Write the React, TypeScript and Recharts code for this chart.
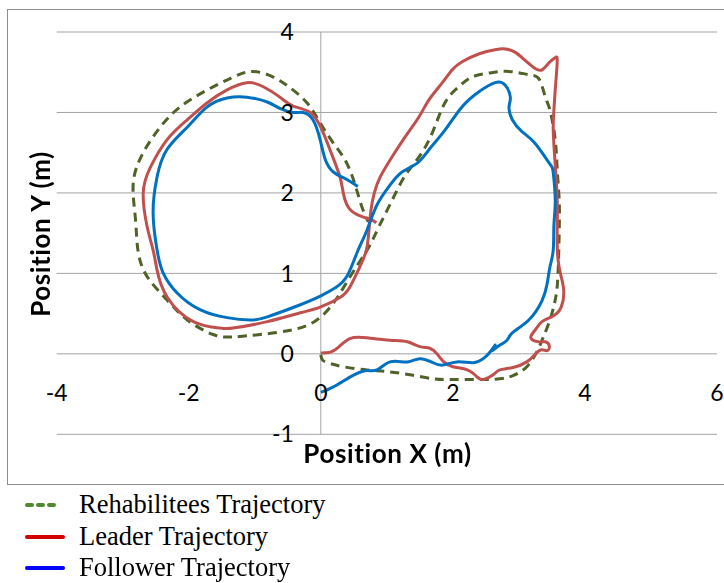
import React from 'react';
import { LineChart, Line, XAxis, YAxis, CartesianGrid, ReferenceLine, ReferenceDot, Legend } from 'recharts';

// Trajectories in metres, in the order they were recorded.
const rehabiliteeX = [0.00, 0.02, 0.10, 0.34, 0.70, 1.00, 1.35, 1.70, 1.96, 2.37, 2.71, 2.91, 3.12, 3.28, 3.37, 3.47, 3.55, 3.59, 3.61, 3.61, 3.58, 3.55, 3.47, 3.40, 3.31, 3.15, 2.85, 2.55, 2.29, 2.09, 1.88, 1.69, 1.49, 1.28, 1.08, 0.88, 0.73, 0.56, 0.37, 0.19, -0.06, -0.42, -0.92, -1.33, -1.63, -2.02, -2.33, -2.63, -2.77, -2.81, -2.84, -2.69, -2.43, -2.13, -1.72, -1.33, -1.03, -0.72, -0.47, -0.21, -0.01, 0.19, 0.38, 0.52, 0.62, 0.72];
const rehabiliteeY = [-0.01, -0.07, -0.11, -0.16, -0.20, -0.22, -0.26, -0.31, -0.32, -0.32, -0.31, -0.27, -0.16, 0.04, 0.21, 0.42, 0.67, 0.96, 1.50, 1.91, 2.29, 2.66, 3.03, 3.19, 3.41, 3.47, 3.51, 3.49, 3.44, 3.32, 3.12, 2.75, 2.45, 2.22, 1.91, 1.58, 1.33, 1.11, 0.86, 0.63, 0.42, 0.30, 0.24, 0.21, 0.24, 0.42, 0.67, 0.96, 1.29, 1.70, 2.13, 2.50, 2.82, 3.07, 3.28, 3.44, 3.51, 3.44, 3.31, 3.12, 2.87, 2.62, 2.39, 2.10, 1.83, 1.64];

const leaderX = [0.00, 0.14, 0.25, 0.44, 0.70, 1.05, 1.31, 1.50, 1.65, 1.76, 1.85, 2.00, 2.22, 2.37, 2.46, 2.61, 2.71, 2.91, 3.12, 3.24, 3.34, 3.43, 3.46, 3.40, 3.29, 3.18, 3.24, 3.35, 3.52, 3.64, 3.68, 3.64, 3.59, 3.58, 3.58, 3.55, 3.52, 3.53, 3.55, 3.58, 3.55, 3.46, 3.35, 3.24, 3.09, 2.94, 2.79, 2.64, 2.40, 2.14, 1.99, 1.84, 1.64, 1.49, 1.28, 1.08, 0.90, 0.81, 0.76, 0.73, 0.69, 0.59, 0.44, 0.29, -0.01, -0.31, -0.81, -1.33, -1.52, -1.93, -2.33, -2.48, -2.54, -2.63, -2.69, -2.58, -2.33, -2.02, -1.72, -1.42, -1.12, -0.87, -0.62, -0.42, -0.16, 0.02, 0.17, 0.29, 0.34, 0.41, 0.55, 0.75, 0.84];
const leaderY = [0.01, 0.02, 0.07, 0.19, 0.20, 0.17, 0.15, 0.09, 0.07, 0.00, -0.09, -0.16, -0.20, -0.29, -0.32, -0.26, -0.20, -0.17, -0.10, -0.01, 0.05, 0.04, 0.10, 0.15, 0.15, 0.20, 0.29, 0.40, 0.47, 0.58, 0.77, 0.96, 1.19, 1.54, 1.91, 2.35, 2.78, 3.03, 3.28, 3.63, 3.68, 3.62, 3.53, 3.55, 3.65, 3.75, 3.79, 3.78, 3.73, 3.63, 3.53, 3.37, 3.16, 2.95, 2.70, 2.45, 2.20, 2.00, 1.79, 1.54, 1.29, 1.08, 0.83, 0.70, 0.58, 0.51, 0.40, 0.32, 0.32, 0.40, 0.71, 1.04, 1.29, 1.58, 2.00, 2.32, 2.66, 2.91, 3.12, 3.28, 3.37, 3.32, 3.19, 3.08, 3.00, 2.78, 2.47, 2.20, 2.00, 1.83, 1.73, 1.67, 1.63];

const followerX = [0.00, 0.19, 0.44, 0.67, 0.85, 1.05, 1.31, 1.50, 1.70, 1.85, 2.06, 2.31, 2.46, 2.56, 2.64, 2.59, 2.68, 2.82, 2.90, 3.15, 3.35, 3.43, 3.47, 3.52, 3.53, 3.55, 3.52, 3.46, 3.24, 3.05, 2.90, 2.85, 2.87, 2.79, 2.64, 2.40, 2.14, 1.88, 1.64, 1.46, 1.23, 1.05, 0.85, 0.70, 0.55, 0.40, 0.22, 0.00, -0.31, -0.81, -1.07, -1.42, -1.83, -2.18, -2.39, -2.48, -2.54, -2.48, -2.33, -2.02, -1.72, -1.42, -1.12, -0.81, -0.62, -0.42, -0.27, -0.12, -0.01, 0.07, 0.19, 0.34, 0.47, 0.56];
const followerY = [-0.48, -0.41, -0.29, -0.21, -0.20, -0.10, -0.10, -0.06, -0.11, -0.14, -0.10, -0.11, -0.06, 0.02, 0.11, 0.04, 0.09, 0.17, 0.26, 0.42, 0.66, 0.88, 1.08, 1.29, 1.60, 1.91, 2.25, 2.37, 2.62, 2.76, 2.91, 3.07, 3.19, 3.34, 3.37, 3.26, 3.07, 2.78, 2.54, 2.37, 2.26, 2.10, 1.85, 1.54, 1.26, 0.97, 0.82, 0.72, 0.61, 0.46, 0.42, 0.45, 0.55, 0.76, 1.01, 1.29, 1.75, 2.20, 2.54, 2.82, 3.07, 3.18, 3.19, 3.13, 3.05, 3.00, 3.00, 2.91, 2.66, 2.41, 2.26, 2.19, 2.13, 2.08];

const xTickValues = [-4, -2, 0, 2, 4, 6];
const yTickValues = [-1, 0, 1, 2, 3, 4];

const toPoints = (xs: number[], ys: number[]) => xs.map((x, i) => ({ x, y: ys[i] }));

const rehabiliteeData = toPoints(rehabiliteeX, rehabiliteeY);
const leaderData = toPoints(leaderX, leaderY);
const followerData = toPoints(followerX, followerY);

const legendItems = [
  { name: 'Rehabilitees Trajectory', color: '#4f8a2f', dashed: true },
  { name: 'Leader Trajectory', color: '#d40000', dashed: false },
  { name: 'Follower Trajectory', color: '#0000ff', dashed: false },
];

const tickFont = 'Lato, "Open Sans", sans-serif';
const gridColor = '#a3a3a3';

const LegendBox = () => (
  <div style={{ fontFamily: '"Liberation Serif", "Times New Roman", serif', fontSize: 26.5, color: '#000' }}>
    {legendItems.map((it) => (
      <div key={it.name} style={{ display: 'flex', alignItems: 'center', height: 31.7 }}>
        <svg width={60} height={20} style={{ marginLeft: 22 }}>
          <line
            x1={5}
            x2={it.dashed ? 34 : 41}
            y1={10}
            y2={10}
            stroke={it.color}
            strokeWidth={4}
            strokeLinecap="round"
            strokeDasharray={it.dashed ? '5 6' : undefined}
          />
        </svg>
        <span style={{ marginLeft: -3, lineHeight: '31.7px' }}>{it.name}</span>
      </div>
    ))}
  </div>
);

export default function App() {
  return (
    <div style={{ position: 'fixed', left: 0, top: 0, width: 724, height: 583, background: '#fff' }}>
      <div
        style={{
          position: 'absolute',
          left: 7,
          top: 9,
          width: 724,
          height: 476,
          border: '1px solid #8c8c8c',
          boxSizing: 'border-box',
        }}
      />
      <LineChart
        width={724}
        height={583}
        margin={{ top: 32, right: 7, bottom: 148.7, left: 56.7 }}
        style={{ position: 'absolute', left: 0, top: 0 }}
      >
        <XAxis type="number" dataKey="x" domain={[-4, 6]} ticks={xTickValues} hide />
        <YAxis type="number" dataKey="y" domain={[-1, 4]} ticks={yTickValues} hide />
        <CartesianGrid vertical={false} horizontalValues={yTickValues} stroke={gridColor} strokeWidth={1} />
        <ReferenceLine x={0} stroke={gridColor} strokeWidth={1} />
        {xTickValues.map((t) => (
          <ReferenceDot
            key={`xt${t}`}
            x={t}
            y={0}
            r={0}
            fill="none"
            stroke="none"
            label={{ value: String(t), position: 'bottom', offset: 31, fill: '#000', fontSize: 23, fontFamily: tickFont }}
          />
        ))}
        {yTickValues.map((t) => (
          <ReferenceDot
            key={`yt${t}`}
            x={0}
            y={t}
            r={0}
            fill="none"
            stroke="none"
            label={{ value: String(t), position: 'left', offset: 27, fill: '#000', fontSize: 23, fontFamily: tickFont }}
          />
        ))}
        <Line
          data={rehabiliteeData}
          dataKey="y"
          name="Rehabilitees Trajectory"
          type="natural"
          stroke="#4f6228"
          strokeWidth={3}
          strokeDasharray="9 6"
          dot={false}
          activeDot={false}
          isAnimationActive={false}
        />
        <Line
          data={leaderData}
          dataKey="y"
          name="Leader Trajectory"
          type="natural"
          stroke="#c0504d"
          strokeWidth={3}
          dot={false}
          activeDot={false}
          isAnimationActive={false}
        />
        <Line
          data={followerData}
          dataKey="y"
          name="Follower Trajectory"
          type="natural"
          stroke="#0070c0"
          strokeWidth={3}
          dot={false}
          activeDot={false}
          isAnimationActive={false}
        />
        <Legend
          layout="horizontal"
          align="center"
          verticalAlign="middle"
          content={() => <LegendBox />}
          wrapperStyle={{ position: 'absolute', left: 0, top: 489, width: 400, height: 95 }}
        />
      </LineChart>
      <svg width={724} height={583} style={{ position: 'absolute', left: 0, top: 0, pointerEvents: 'none' }}>
        <text
          x={387.5}
          y={463}
          textAnchor="middle"
          fontFamily={tickFont}
          fontWeight="bold"
          fontSize={26}
          letterSpacing={0.6}
          fill="#000"
        >
          Position X (m)
        </text>
        <text
          x={0}
          y={0}
          transform="translate(50 234) rotate(-90)"
          textAnchor="middle"
          fontFamily={tickFont}
          fontWeight="bold"
          fontSize={26}
          letterSpacing={0.6}
          fill="#000"
        >
          Position Y (m)
        </text>
      </svg>
    </div>
  );
}
